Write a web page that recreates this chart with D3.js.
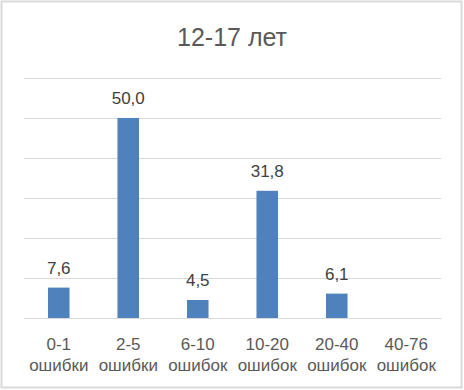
<!DOCTYPE html>
<html>
<head>
<meta charset="utf-8">
<script src="https://cdn.jsdelivr.net/npm/d3@7"></script>
<style>
  body { margin: 0; background: #fff; }
  text { font-family: "Liberation Sans", Arial, sans-serif; }
</style>
</head>
<body>
<div id="chart"></div>
<script>
const title = '12-17 лет';
const categories = ['0-1', '2-5', '6-10', '10-20', '20-40', '40-76'];
const subLabels = ['ошибки', 'ошибки', 'ошибок', 'ошибок', 'ошибок', 'ошибок'];
const values = [7.6, 50.0, 4.5, 31.8, 6.1, null];
const gridTicks = [0, 10, 20, 30, 40, 50, 60];

const width = 464;
const height = 390;
const margin = { top: 78, bottom: 72, left: 24, right: 23 };
const chartWidth = width - margin.left - margin.right;
const chartHeight = height - margin.top - margin.bottom;

const svg = d3.select('#chart')
    .append('svg')
    .attr('width', width)
    .attr('height', height);

// outer frame
svg.append('rect')
    .attr('x', 1.5)
    .attr('y', 1.5)
    .attr('width', width - 4)
    .attr('height', height - 4)
    .attr('fill', '#fff')
    .attr('stroke', '#d9d9d9')
    .attr('stroke-width', 2);

svg.append('text')
    .attr('x', width / 2)
    .attr('y', 46)
    .attr('text-anchor', 'middle')
    .style('font-size', '25px')
    .style('fill', '#595959')
    .text(title);

const chart = svg.append('g')
    .attr('transform', `translate(${margin.left},${margin.top})`);

const xScale = d3.scaleBand()
    .domain(categories)
    .range([0, chartWidth])
    .paddingInner(0.69)
    .paddingOuter(0.345);

const yScale = d3.scaleLinear()
    .domain([0, 60])
    .range([chartHeight, 0]);

const yGridlines = d3.axisLeft()
    .scale(yScale)
    .tickValues(gridTicks)
    .tickSize(-chartWidth)
    .tickFormat('');

chart.append('g')
    .classed('gridline', true)
    .call(yGridlines)
    .call(g => g.select('.domain').remove())
    .call(g => g.selectAll('line').attr('stroke', '#d9d9d9').attr('stroke-width', 1));

const data = categories.map((c, i) => ({ name: c, sub: subLabels[i], val: values[i] }));

chart.selectAll('.bar')
    .data(data.filter(d => d.val != null))
    .enter()
    .append('rect')
    .classed('bar', true)
    .attr('x', d => xScale(d.name))
    .attr('y', d => yScale(d.val))
    .attr('width', xScale.bandwidth())
    .attr('height', d => chartHeight - yScale(d.val))
    .style('fill', '#4f81bd');

chart.selectAll('.bar-label')
    .data(data.filter(d => d.val != null))
    .enter()
    .append('text')
    .classed('bar-label', true)
    .attr('x', d => xScale(d.name) + xScale.bandwidth() / 2)
    .attr('y', d => yScale(d.val))
    .attr('dy', -14)
    .attr('text-anchor', 'middle')
    .style('font-size', '17px')
    .style('fill', '#404040')
    .text(d => d3.format('.1f')(d.val).replace('.', ','));

const xAxis = d3.axisBottom()
    .scale(xScale)
    .tickSize(0)
    .tickPadding(0)
    .tickFormat('');

const xg = chart.append('g')
    .classed('x axis', true)
    .attr('transform', `translate(0,${chartHeight})`)
    .call(xAxis);
xg.select('.domain').attr('stroke', '#d9d9d9');

xg.selectAll('.tick').each(function(name, i) {
    const t = d3.select(this).append('text')
        .attr('text-anchor', 'middle')
        .style('font-size', '17px')
        .style('fill', '#595959');
    t.append('tspan').attr('x', 0).attr('y', 32).text(name);
    t.append('tspan').attr('x', 0).attr('y', 53).text(subLabels[i]);
});
</script>
</body>
</html>
